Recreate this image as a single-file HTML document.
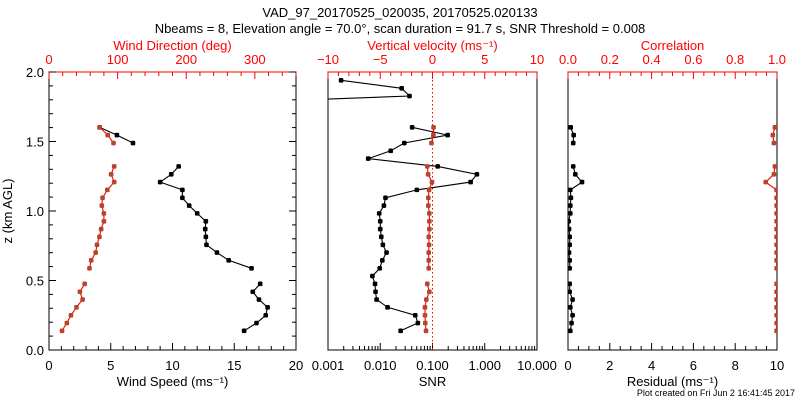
<!DOCTYPE html>
<html><head><meta charset="utf-8"><style>
body{margin:0;background:#fff;}
svg{display:block;font-family:"Liberation Sans",sans-serif;}
</style></head><body>
<svg id="c" width="800" height="400" viewBox="0 0 800 400">
<text x="400" y="17" text-anchor="middle" font-size="13">VAD_97_20170525_020035, 20170525.020133</text>
<text x="400" y="33" text-anchor="middle" font-size="13">Nbeams = 8, Elevation angle = 70.0°, scan duration = 91.7 s, SNR Threshold = 0.008</text>
<text x="795" y="396" text-anchor="end" font-size="9">Plot created on Fri Jun  2 16:41:45 2017</text>
</svg>
<script>
const heights=[0.138,0.194,0.25,0.307,0.363,0.419,0.476,0.532,0.588,0.645,0.701,0.757,0.814,0.87,0.926,0.983,1.039,1.095,1.152,1.208,1.264,1.321,1.377,1.433,1.489,1.546,1.602,1.658,1.714,1.771,1.827,1.883,1.94];
const windLevels=[0,1,2,3,4,5,6,8,9,10,11,12,13,14,15,16,17,18,19,20,21,24,25,26];
const windSpeed=[15.8,16.8,17.55,17.7,17.0,16.5,17.1,16.4,14.55,13.6,12.75,12.7,12.65,12.7,12.0,11.35,10.8,10.8,9.0,9.9,10.5,6.8,5.5,4.1];
const windDir=[19,26,32,40,49,45,52,59,61.5,68,70,73.5,76,80,80,77,78,85,95,90.5,95,94,85.5,74];
const snrLevels=[0,1,2,3,4,5,6,7,8,9,10,11,12,13,14,15,16,17,18,19,20,21,22,23,24,25,26,29,30,31,32];
const snrLog=[-1.61,-1.28,-1.33,-1.86,-2.07,-2.09,-2.1,-2.15,-2.01,-1.96,-1.88,-1.95,-1.98,-2.0,-2.0,-2.02,-1.93,-1.9,-1.3,-0.27,-0.15,-0.9,-2.23,-1.8,-1.54,-0.71,-1.39,-5.4,-1.44,-1.59,-2.75];
const wVel=[-0.62,-0.69,-0.72,-0.72,-0.59,-0.3,-0.5,-0.36,-0.36,-0.36,-0.33,-0.36,-0.3,-0.3,-0.3,-0.4,-0.4,-0.33,-0.05,-0.42,-0.5,-0.1,0.08,0.1];
const residual=[0.11,0.17,0.22,0.11,0.22,0.08,0.08,0.08,0.08,0.05,0.08,0.08,0.05,0.03,0.11,0.11,0.14,0.11,0.67,0.35,0.25,0.25,0.27,0.13];
const correlation=[0.998,0.998,0.998,0.998,0.998,0.998,0.998,0.998,0.998,0.998,0.998,0.998,0.998,0.998,0.998,0.998,0.998,0.998,0.946,0.985,0.99,0.985,0.98,0.99];

const S=document.getElementById('c');const NS='http://www.w3.org/2000/svg';
function el(t,a,p){const e=document.createElementNS(NS,t);for(const k in a)e.setAttribute(k,a[k]);(p||S).appendChild(e);return e;}
const Y0=350,Y1=72;
const yS=z=>Y0-(z/2)*(Y0-Y1);
const RED='#ff0000',BR='#b5452b';
function lin(a,b,x0,x1){return v=>x0+(v-a)/(b-a)*(x1-x0);}
function panel(name,x0,x1){
  const g=el('g',{});
  const cp=el('clipPath',{id:'cp'+name},g);el('rect',{x:x0,y:Y1,width:x1-x0,height:Y0-Y1},cp);
  el('rect',{x:x0,y:Y1,width:x1-x0,height:Y0-Y1,fill:'none',stroke:'#000'},g);
  el('line',{x1:x0,y1:Y1,x2:x1,y2:Y1,stroke:RED},g);
  return g;
}
function tick(g,x,y,len,col,dir){el('line',{x1:x,y1:y,x2:x,y2:y+dir*len,stroke:col},g);}
function txt(g,x,y,s,col,size,name,anchor){const t=el('text',{x:x,y:y,'font-size':size||13,fill:col||'#000','text-anchor':anchor||'middle'},g);t.textContent=s;return t;}
function series(g,clip,xs,ys,lineCol,markCol,name){
  const s=el('g',{'clip-path':'url(#'+clip+')'},g);
  let d='';
  for(let i=0;i<xs.length;i++){d+=(i===0||ys[i].lv-ys[i-1].lv>1?'M':'L')+xs[i].toFixed(1)+' '+ys[i].y.toFixed(1)+' ';}
  el('path',{d:d,fill:'none',stroke:lineCol,'stroke-width':1.1},s);
  for(let i=0;i<xs.length;i++){const m=el('rect',{x:xs[i]-2.3,y:ys[i].y-2.3,width:4.6,height:4.6,rx:1.3,fill:markCol},s);}
}
function levelY(levels){return levels.map(l=>({lv:l,y:yS(heights[l])}));}

const L0=49,L1=296;
const gL=panel('wind-panel',L0,L1);
const xSp=lin(0,20,L0,L1),xDir=lin(0,360,L0,L1);
for(let v=0;v<=20;v++){const M=v%5===0;tick(gL,xSp(v),Y0,M?7:4,'#000',-1);if(M)txt(gL,xSp(v),370,String(v),'#000',13,'x-tick-label');}
for(let v=0;v<=360;v+=20){const M=v%100===0;tick(gL,xDir(v),Y1,M?7:4,RED,1);if(M)txt(gL,xDir(v),64,String(v),RED,13,'top-x-tick-label');}
for(let k=0;k<=20;k++){const z=k/10,M=k%5===0,yy=yS(z);el('line',{x1:L0,y1:yy,x2:L0+(M?7:4),y2:yy,stroke:'#000'},gL);el('line',{x1:L1,y1:yy,x2:L1-(M?7:4),y2:yy,stroke:'#000'},gL);if(M)txt(gL,L0-5,yy+5,z.toFixed(1),'#000',13,'y-tick-label','end');}
txt(gL,L0+(L1-L0)/2,386,'Wind Speed (ms⁻¹)','#000',13,'x-axis-title');
txt(gL,L0+(L1-L0)/2,50,'Wind Direction (deg)',RED,13,'top-axis-title');
const yt=txt(gL,0,0,'z (km AGL)','#000',13,'y-axis-title');yt.setAttribute('transform','translate(12,211) rotate(-90)');
series(gL,'cpwind-panel',windSpeed.map(xSp),levelY(windLevels),'#000','#000','wind-speed-series');
series(gL,'cpwind-panel',windDir.map(xDir),levelY(windLevels),RED,BR,'wind-direction-series');

const M0=328,M1=537;
const gM=panel('snr-panel',M0,M1);
const xLog=lin(-3,1,M0,M1),xW=lin(-10,10,M0,M1);
const snrLab=['0.001','0.010','0.100','1.000','10.000'];
for(let d=-3;d<=1;d++){tick(gM,xLog(d),Y0,7,'#000',-1);txt(gM,xLog(d),370,snrLab[d+3],'#000',13,'x-tick-label');if(d<1)for(let m=2;m<=9;m++)tick(gM,xLog(d+Math.log10(m)),Y0,4,'#000',-1);}
for(let v=-10;v<=10;v++){const M=v%5===0;tick(gM,xW(v),Y1,M?7:4,RED,1);if(M)txt(gM,xW(v),64,v<0?'−'+(-v):String(v),RED,13,'top-x-tick-label');}
el('line',{x1:xW(0),y1:Y1,x2:xW(0),y2:Y0,stroke:RED,'stroke-dasharray':'1.5,2.5'},gM);
txt(gM,(M0+M1)/2,386,'SNR','#000',13,'x-axis-title');
txt(gM,(M0+M1)/2,50,'Vertical velocity (ms⁻¹)',RED,13,'top-axis-title');
series(gM,'cpsnr-panel',snrLog.map(xLog),levelY(snrLevels),'#000','#000','snr-series');
series(gM,'cpsnr-panel',wVel.map(xW),levelY(windLevels),RED,BR,'vertical-velocity-series');

const R0=568,R1=777;
const gR=panel('residual-panel',R0,R1);
const xR=lin(0,10,R0,R1),xC=lin(0,1,R0,R1);
for(let k=0;k<=20;k++){const v=k/2,M=k%4===0;tick(gR,xR(v),Y0,M?7:4,'#000',-1);if(M)txt(gR,xR(v),370,String(v),'#000',13,'x-tick-label');}
for(let k=0;k<=20;k++){const v=k/20,M=k%4===0;tick(gR,xC(v),Y1,M?7:4,RED,1);if(M)txt(gR,xC(v),64,v.toFixed(1),RED,13,'top-x-tick-label');}
txt(gR,(R0+R1)/2,386,'Residual (ms⁻¹)','#000',13,'x-axis-title');
txt(gR,(R0+R1)/2,50,'Correlation',RED,13,'top-axis-title');
series(gR,'cpresidual-panel',residual.map(xR),levelY(windLevels),'#000','#000','residual-series');
series(gR,'cpresidual-panel',correlation.map(xC),levelY(windLevels),RED,BR,'correlation-series');
</script>
</body></html>
